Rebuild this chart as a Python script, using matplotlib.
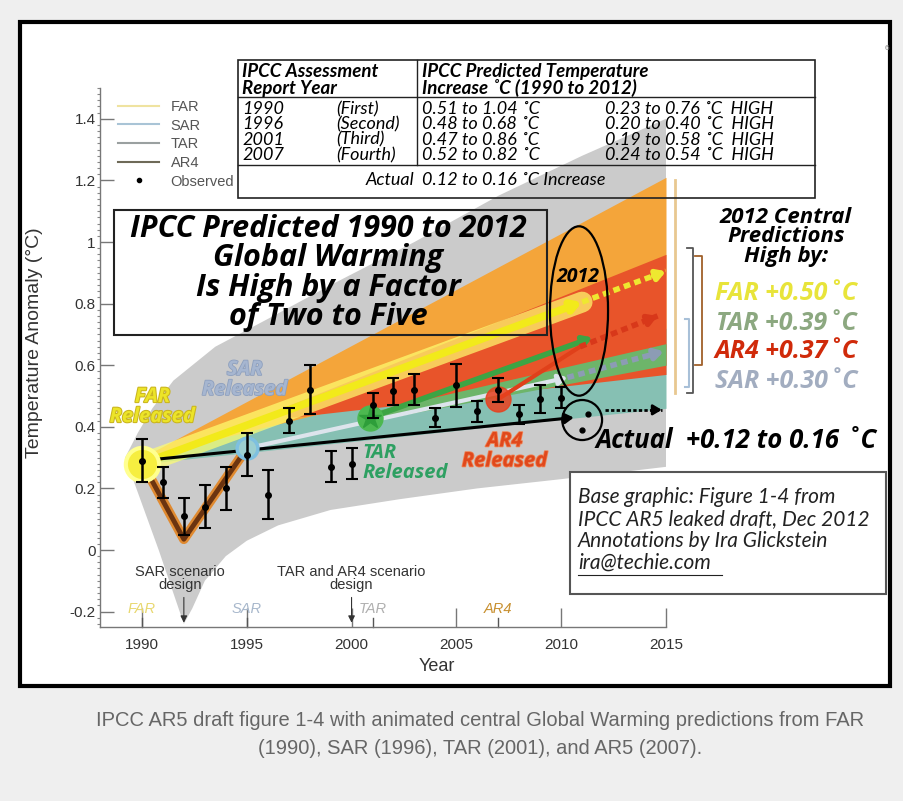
import matplotlib
matplotlib.use("Agg")
import matplotlib.pyplot as plt
import matplotlib.patheffects as pe
from matplotlib.patches import Rectangle, Ellipse
from matplotlib.lines import Line2D
from matplotlib.ticker import MultipleLocator, FixedLocator, FixedFormatter

# observed temperature anomaly (deg C) with error bars
OBS_YEARS = list(range(1990, 2011))
OBS_VALS = [0.29, 0.22, 0.11, 0.14, 0.20, 0.31, 0.18, 0.42, 0.52, 0.27, 0.28,
            0.47, 0.515, 0.52, 0.43, 0.535, 0.45, 0.52, 0.44, 0.49, 0.495]
OBS_ERR = [0.07, 0.05, 0.06, 0.07, 0.07, 0.07, 0.08, 0.04, 0.08, 0.05, 0.05,
           0.04, 0.045, 0.05, 0.03, 0.07, 0.035, 0.04, 0.03, 0.045, 0.035]
ACTUAL_YEARS = [2011.3, 2011.0]
ACTUAL_VALS = [0.44, 0.39]

# gray model envelope
GRAY_UP_X = [1989.2, 1989.8, 1990.5, 1991.5, 1993.5, 1996, 1999, 2003, 2007, 2011, 2015]
GRAY_UP_Y = [0.30, 0.38, 0.46, 0.55, 0.66, 0.75, 0.86, 1.00, 1.15, 1.28, 1.40]
GRAY_LO_X = [2015, 2010, 2006, 2002.3, 1999, 1996.5, 1995, 1994, 1993, 1992.4, 1992, 1991.5, 1990.8, 1990.0, 1989.2]
GRAY_LO_Y = [0.27, 0.23, 0.20, 0.165, 0.13, 0.08, 0.03, -0.02, -0.10, -0.19, -0.24, -0.14, 0.0, 0.15, 0.30]

# projection ranges of each report
FAR_BAND_X = [1990, 2015]
FAR_BAND_UP = [0.30, 1.21]
FAR_BAND_LO = [0.28, 0.60]
SAR_BAND_X = [1990, 2015]
SAR_BAND_UP = [0.30, 0.72]
SAR_BAND_LO = [0.28, 0.46]
AR4_BAND_X = [1997, 2015]
AR4_BAND_UP = [0.47, 0.96]
AR4_BAND_LO = [0.43, 0.57]
TAR_BAND_X = [2001, 2015]
TAR_BAND_UP = [0.45, 0.67]
TAR_BAND_LO = [0.42, 0.60]

# central predictions (solid part, then extension to 2015)
FAR_X, FAR_Y = [1990, 2011], [0.28, 0.805]
FAR_EXT_X, FAR_EXT_Y = [2011, 2015], [0.805, 0.905]
SAR_X, SAR_Y = [1995, 2010.3], [0.33, 0.56]
SAR_EXT_X, SAR_EXT_Y = [2010.3, 2014.9], [0.56, 0.645]
TAR_X, TAR_Y = [2000.9, 2011.5], [0.43, 0.69]
AR4_X, AR4_Y = [2007, 2010.9], [0.49, 0.66]
AR4_EXT_X, AR4_EXT_Y = [2010.9, 2014.6], [0.66, 0.76]
ACT_X, ACT_Y = [1990, 2010.6], [0.29, 0.43]
ACT_EXT_X, ACT_EXT_Y = [2012.1, 2014.8], [0.455, 0.455]
HIND_X, HIND_Y = [1990, 1992, 1995], [0.285, 0.035, 0.33]

# release points
REL_YEARS = [1990, 1995, 2000.9, 2007]
REL_VALS = [0.28, 0.33, 0.43, 0.49]

YTICKS = [-0.2, 0, 0.2, 0.4, 0.6, 0.8, 1.0, 1.2, 1.4]
YTICK_LABELS = ["-0.2", "0", "0.2", "0.4", "0.6", "0.8", "1", "1.2", "1.4"]
XTICKS = [1990, 1995, 2000, 2005, 2010, 2015]
REPORT_TICKS = [1990, 1995, 2001, 2007]
REPORT_NAMES = ["FAR", "SAR", "TAR", "AR4"]
REPORT_COLORS = ["#E8D870", "#A8B8CC", "#B0B0B0", "#C89030"]

# table and annotation texts
TABLE_HEAD = [("IPCC Assessment", "Report Year"),
              ("IPCC Predicted Temperature", "Increase ˚C (1990 to 2012)")]
TABLE_YEARS = ["1990", "1996", "2001", "2007"]
TABLE_NAMES = ["(First)", "(Second)", "(Third)", "(Fourth)"]
TABLE_RANGE = ["0.51 to 1.04 ˚C", "0.48 to 0.68 ˚C", "0.47 to 0.86 ˚C", "0.52 to 0.82 ˚C"]
TABLE_HIGH = ["0.23 to 0.76 ˚C  HIGH", "0.20 to 0.40 ˚C  HIGH",
              "0.19 to 0.58 ˚C  HIGH", "0.24 to 0.54 ˚C  HIGH"]
HIGH_BY = ["FAR +0.50˚C", "TAR +0.39˚C", "AR4 +0.37˚C", "SAR +0.30˚C"]
HIGH_COLORS = ["#E8E43A", "#8CA880", "#D02A0A", "#A2ADC0"]
SOURCE = ["Base graphic: Figure 1-4 from", "IPCC AR5 leaked draft, Dec 2012",
          "Annotations by Ira Glickstein", "ira@techie.com"]

ORANGE = "#F4A53A"
RED = "#E8542A"
TEAL = "#86C0B3"
GREEN = "#3DA444"
YELLOW = "#F2EA1A"
GRAY = "#CBCBCB"

ARIAL = ["Liberation Sans", "DejaVu Sans"]
CAL = ["Lato", "DejaVu Sans"]
BOLD = ["Open Sans", "DejaVu Sans"]


def fx(px):
    return px / 904.0


def fy(py):
    return 1 - py / 801.0


fig = plt.figure(figsize=(9.04, 8.01), dpi=100, facecolor="#efefef")
fig.add_artist(Rectangle((fx(20), fy(686)), fx(890) - fx(20), fy(22) - fy(686),
                         transform=fig.transFigure, facecolor="white",
                         edgecolor="black", lw=3, zorder=-5))

ax = fig.add_axes([fx(100), fy(627), fx(666) - fx(100), fy(88) - fy(627)])
ax.patch.set_alpha(0)
ax.set_xlim(1988, 2015)
ax.set_ylim(-0.25, 1.5)

# shaded regions
ax.fill(GRAY_UP_X + GRAY_LO_X, GRAY_UP_Y + GRAY_LO_Y, color=GRAY, lw=0, zorder=1)
ax.fill_between(FAR_BAND_X, FAR_BAND_LO, FAR_BAND_UP, color=ORANGE, lw=0, zorder=2)
ax.fill_between(SAR_BAND_X, SAR_BAND_LO, SAR_BAND_UP, color=TEAL, lw=0, zorder=2.1)
ax.fill_between(AR4_BAND_X, AR4_BAND_LO, AR4_BAND_UP, color=RED, lw=0, zorder=2.2)
ax.fill_between(TAR_BAND_X, TAR_BAND_LO, TAR_BAND_UP, color="#6DB56A", lw=0, zorder=2.3)

# hindcast curve
ax.plot(HIND_X, HIND_Y, color="#E08A30", lw=7, solid_capstyle="round", zorder=4)
ax.plot(HIND_X, HIND_Y, color="#6B3410", lw=3.5, solid_capstyle="round", zorder=4.1)


def arrow(xs, ys, color, lw, dashed=False, z=5):
    if dashed:
        ax.plot(xs, ys, color=color, lw=lw, ls=(0, (1.2, 0.8)), zorder=z)
        xs = [xs[-1] - (xs[-1] - xs[0]) * 0.15, xs[-1]]
        ys = [ys[-1] - (ys[-1] - ys[0]) * 0.15, ys[-1]]
    ax.annotate("", xy=(xs[-1], ys[-1]), xytext=(xs[0], ys[0]),
                arrowprops=dict(arrowstyle="-|>,head_length=0.5,head_width=0.3",
                                color=color, lw=lw, shrinkA=0, shrinkB=0),
                zorder=z)


# central predictions
ax.plot(FAR_X, FAR_Y, color="#FFFF70", lw=15, alpha=0.7, solid_capstyle="round", zorder=4.5)
arrow(FAR_X, FAR_Y, YELLOW, 5.5)
arrow(FAR_EXT_X, FAR_EXT_Y, "#EEE830", 4, dashed=True)
arrow(SAR_X, SAR_Y, "#DDE4EC", 3)
arrow(SAR_EXT_X, SAR_EXT_Y, "#8C9CB4", 4, dashed=True)
arrow(TAR_X, TAR_Y, GREEN, 4)
ax.plot(AR4_X, AR4_Y, color="#E0401A", lw=3, zorder=5)
arrow(AR4_EXT_X, AR4_EXT_Y, "#D8381A", 4, dashed=True)
arrow(ACT_X, ACT_Y, "black", 2.2, z=6)
arrow(ACT_EXT_X, ACT_EXT_Y, "black", 2, dashed=True, z=6)

# release markers
ax.plot(REL_YEARS[0], REL_VALS[0], "o", ms=24, color="#F6EE40", mec="#FFFF90", mew=3, zorder=7)
ax.plot(REL_YEARS[1], REL_VALS[1], "o", ms=15, mfc="#9CCFD0", mec="#7EC0E0", mew=2.5, zorder=7)
ax.plot(REL_YEARS[2], REL_VALS[2], "o", ms=18, color="#4CB850", zorder=7)
ax.plot(REL_YEARS[2], REL_VALS[2], "*", ms=16, color="#2E9E3A", zorder=7.1)
ax.plot(REL_YEARS[3], REL_VALS[3], "o", ms=18, color="#E8401E", alpha=0.85, zorder=7)

# observations
ax.errorbar(OBS_YEARS, OBS_VALS, yerr=OBS_ERR, fmt="o", color="black", ms=4,
            capsize=4, elinewidth=1.8, capthick=1.5, zorder=8)
ax.plot(ACTUAL_YEARS, ACTUAL_VALS, "o", color="black", ms=3.5, zorder=8)

# 2012 ellipse and actual circle
ax.add_patch(Ellipse((2010.85, 0.776), 2.77, 0.55, fill=False, edgecolor="black", lw=1.6, zorder=9))
ax.add_patch(Ellipse((2011.0, 0.422), 1.9, 0.13, fill=False, edgecolor="black", lw=1.6, zorder=9))
ax.text(2010.8, 0.886, "2012", fontsize=14, fontweight="bold", style="italic",
        family=BOLD, ha="center", va="center", zorder=10)

# released labels
rel_fs = 14.5
ax.text(1990.5, 0.464, "FAR\nReleased", color="#ECE428", fontsize=rel_fs, fontweight="bold",
        style="italic", family=BOLD, ha="center", va="center", linespacing=1.0, zorder=10,
        path_effects=[pe.withStroke(linewidth=1.5, foreground="#C9B420")])
ax.text(1994.9, 0.552, "SAR\nReleased", color="#A6B6D0", fontsize=rel_fs, fontweight="bold",
        style="italic", family=BOLD, ha="center", va="center", linespacing=1.0, zorder=10,
        path_effects=[pe.withStroke(linewidth=1.2, foreground="#8EA0BE")])
ax.text(2000.5, 0.282, "TAR\nReleased", color="#2EA062", fontsize=rel_fs, fontweight="bold",
        style="italic", family=BOLD, ha="left", va="center", linespacing=1.0, zorder=10)
ax.text(2007.3, 0.32, "AR4\nReleased", color="#E0481C", fontsize=rel_fs, fontweight="bold",
        style="italic", family=BOLD, ha="center", va="center", linespacing=1.0, zorder=10,
        path_effects=[pe.withStroke(linewidth=1.2, foreground="#F08050")])

# right side brackets
ax.plot([2015.45, 2015.45], [0.51, 1.2], color="#E8C890", lw=2, clip_on=False)
ax.plot([2015.9, 2016.1, 2016.1, 2015.9], [0.75, 0.75, 0.53, 0.53], color="#A8C0D8", lw=1.5, clip_on=False)
ax.plot([2016.0, 2016.3, 2016.3, 2016.0], [0.98, 0.98, 0.51, 0.51], color="#555", lw=1.3, clip_on=False)
ax.plot([2016.4, 2016.7, 2016.7, 2016.4], [0.955, 0.955, 0.60, 0.60], color="#A0602A", lw=1.3, clip_on=False)

# report ticks on the x axis
for yr, name, c in zip(REPORT_TICKS, REPORT_NAMES, REPORT_COLORS):
    ax.plot([yr, yr], [-0.25, -0.22], color="#555", lw=1, clip_on=False)
    ax.text(yr, -0.19, name, color=c, fontsize=10.5, family=ARIAL, style="italic",
            ha="center", va="center")

# scenario design annotations
ax.text(1991.8, -0.093, "SAR scenario\ndesign", fontsize=10.5, family=ARIAL, color="#333",
        ha="center", va="center", linespacing=0.95)
ax.annotate("", xy=(1992, -0.245), xytext=(1992, -0.145),
            arrowprops=dict(arrowstyle="-|>,head_length=0.4,head_width=0.2", color="#333", lw=0.8))
ax.text(2000, -0.093, "TAR and AR4 scenario\ndesign", fontsize=10.5, family=ARIAL, color="#333",
        ha="center", va="center", linespacing=0.95)
ax.annotate("", xy=(2000, -0.245), xytext=(2000, -0.145),
            arrowprops=dict(arrowstyle="-|>,head_length=0.4,head_width=0.2", color="#333", lw=0.8))

# axes styling
for s in ["top", "right"]:
    ax.spines[s].set_visible(False)
for s in ["left", "bottom"]:
    ax.spines[s].set_color("#777")
    ax.spines[s].set_linewidth(1)
ax.yaxis.set_major_locator(FixedLocator(YTICKS))
ax.yaxis.set_major_formatter(FixedFormatter(YTICK_LABELS))
ax.yaxis.set_minor_locator(MultipleLocator(0.02))
ax.set_xticks(XTICKS)
ax.tick_params(axis="y", which="major", direction="in", length=10, width=1, color="#777",
               labelsize=11, labelcolor="#333", pad=3)
ax.tick_params(axis="y", which="minor", direction="out", length=2, width=0.8, color="#888")
ax.tick_params(axis="x", direction="in", length=14, width=1, color="#777",
               labelsize=11, labelcolor="#333", pad=8)
for lab in ax.get_xticklabels() + ax.get_yticklabels():
    lab.set_family(ARIAL)
ax.set_ylabel("Temperature Anomaly (°C)", fontsize=14, color="#333", family=ARIAL)
ax.yaxis.set_label_coords(-0.1, 0.527)
ax.set_xlabel("Year", fontsize=13, color="#333", family=ARIAL)
ax.xaxis.set_label_coords(0.595, -0.057)

# legend
handles = [Line2D([], [], color="#EFE3A0", lw=1.5),
           Line2D([], [], color="#A9C4D6", lw=1.5),
           Line2D([], [], color="#9AA0A0", lw=1.5),
           Line2D([], [], color="#6E6A58", lw=1.5),
           Line2D([], [], color="black", marker="o", ms=3, ls="none")]
leg = ax.legend(handles, ["FAR", "SAR", "TAR", "AR4", "Observed"], loc="upper left",
                bbox_to_anchor=(0.032, 0.978), frameon=False,
                handlelength=2.8, handletextpad=0.8, labelspacing=0.32,
                borderpad=0, borderaxespad=0, prop={"family": ARIAL, "size": 10.5})
for t in leg.get_texts():
    t.set_color("#555")

# assessment table
fig.add_artist(Rectangle((fx(238), fy(198)), fx(815) - fx(238), fy(60) - fy(198),
                         transform=fig.transFigure, fill=False, edgecolor="#222", lw=1.2))
fig.add_artist(Line2D([fx(238), fx(815)], [fy(97), fy(97)], color="#222", lw=1))
fig.add_artist(Line2D([fx(238), fx(815)], [fy(165), fy(165)], color="#222", lw=1))
fig.add_artist(Line2D([fx(417), fx(417)], [fy(60), fy(165)], color="#222", lw=1))

for col, xpx in zip(TABLE_HEAD, [242, 422]):
    fig.text(fx(xpx), fy(80), "\n".join(col), fontsize=13.5, fontweight="bold", style="italic",
             family=CAL, ha="left", va="center", linespacing=0.94)
for col, xpx in zip([TABLE_YEARS, TABLE_NAMES, TABLE_RANGE, TABLE_HIGH], [242, 336, 422, 605]):
    fig.text(fx(xpx), fy(132), "\n".join(col), fontsize=13, style="italic", family=CAL,
             ha="left", va="center", linespacing=0.94)
fig.text(fx(414), fy(180), "Actual", fontsize=13, style="italic", family=CAL, ha="right", va="center")
fig.text(fx(422), fy(180), "0.12 to 0.16 ˚C Increase", fontsize=13, style="italic", family=CAL,
         ha="left", va="center")

# headline box
fig.add_artist(Rectangle((fx(114), fy(335)), fx(547) - fx(114), fy(210) - fy(335),
                         transform=fig.transFigure, fill=False, edgecolor="#222", lw=1.5))
fig.text(fx(328), fy(273), "IPCC Predicted 1990 to 2012\nGlobal Warming\nIs High by a Factor\nof Two to Five",
         fontsize=22, fontweight="bold", style="italic", family=BOLD, ha="center", va="center",
         linespacing=0.98)

# 2012 central predictions
fig.text(fx(786), fy(237), "2012 Central\nPredictions\nHigh by:", fontsize=16, fontweight="bold",
         style="italic", family=BOLD, ha="center", va="center", linespacing=0.9)
for txt, c, ypx in zip(HIGH_BY, HIGH_COLORS, [293, 324, 352, 381]):
    fig.text(fx(786), fy(ypx), txt, fontsize=18, fontweight="bold", style="italic",
             family=BOLD, color=c, ha="center", va="center")
fig.text(fx(596), fy(440), "Actual  +0.12 to 0.16 ˚C", fontsize=18.5, fontweight="bold",
         style="italic", family=BOLD, ha="left", va="center")

# source box
fig.add_artist(Rectangle((fx(570), fy(594)), fx(886) - fx(570), fy(472) - fy(594),
                         transform=fig.transFigure, facecolor="white", edgecolor="#555", lw=1.5))
fig.text(fx(578), fy(530), "\n".join(SOURCE), fontsize=15, style="italic", family=CAL,
         ha="left", va="center", color="#222", linespacing=1.12)
fig.add_artist(Line2D([fx(578), fx(722)], [fy(575), fy(575)], color="#222", lw=0.8))

fig.text(fx(887), fy(50), "6", fontsize=6, color="#888", family=ARIAL, ha="center")

# caption
fig.text(fx(480), fy(720), "IPCC AR5 draft figure 1-4 with animated central Global Warming predictions from FAR",
         fontsize=14.5, color="#666", family=ARIAL, ha="center", va="center")
fig.text(fx(480), fy(748), "(1990), SAR (1996), TAR (2001), and AR5 (2007).",
         fontsize=14.5, color="#666", family=ARIAL, ha="center", va="center")

fig.savefig("out.png", dpi=100, facecolor=fig.get_facecolor())
